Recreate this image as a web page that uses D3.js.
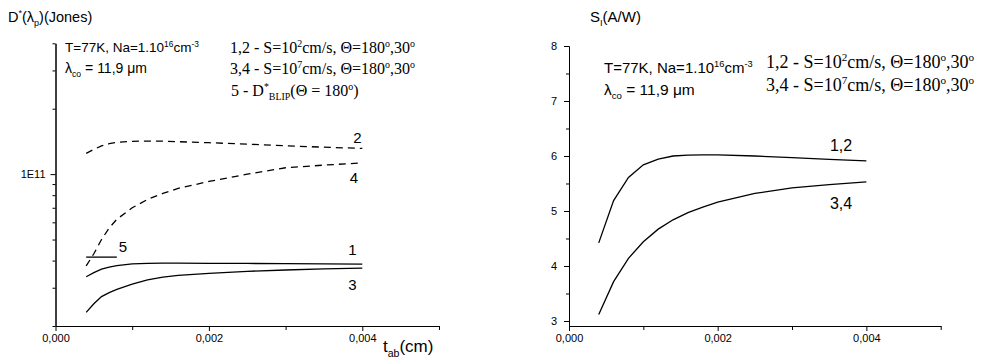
<!DOCTYPE html>
<html><head><meta charset="utf-8">
<script src="https://cdn.jsdelivr.net/npm/d3@7"></script>
<style>
body{margin:0;background:#fff;}
svg{display:block;}
.ax path,.ax line{stroke:#000;stroke-width:1;}
.ax text{font-family:Arial,"Liberation Sans",sans-serif;font-size:11px;fill:#000;}
</style></head>
<body>
<svg id="c" width="992" height="359"></svg>
<script>
// ---- data ----
const tLeft = [0.0004,0.0005,0.0006,0.0007,0.0008,0.001,0.0012,0.0014,0.0016,0.002,0.0025,0.003,0.0035,0.004];
const curve1 = [3.37e10,3.52e10,3.65e10,3.73e10,3.79e10,3.86e10,3.88e10,3.89e10,3.89e10,3.885e10,3.88e10,3.87e10,3.86e10,3.855e10];
const curve2 = [1.245e11,1.30e11,1.35e11,1.38e11,1.40e11,1.415e11,1.42e11,1.418e11,1.41e11,1.395e11,1.374e11,1.35e11,1.33e11,1.313e11];
const curve3 = [2.31e10,2.53e10,2.73e10,2.85e10,2.95e10,3.12e10,3.26e10,3.36e10,3.42e10,3.49e10,3.57e10,3.62e10,3.66e10,3.69e10];
const curve4 = [3.78e10,4.3e10,5.0e10,5.65e10,6.2e10,7.0e10,7.65e10,8.15e10,8.6e10,9.25e10,1.0e11,1.07e11,1.10e11,1.127e11];
const tBlip = [0.0004,0.0008];
const curve5 = [4.15e10,4.15e10];
const tRight = [0.0004,0.0006,0.0008,0.001,0.0012,0.0014,0.0016,0.0018,0.002,0.0025,0.003,0.0035,0.004];
const s12 = [4.42,5.19,5.61,5.84,5.945,6.0,6.015,6.02,6.02,6.0,5.97,5.94,5.91];
const s34 = [3.12,3.715,4.14,4.44,4.67,4.84,4.97,5.07,5.16,5.32,5.42,5.48,5.53];
const xMajor = [0,0.002,0.004];
const xMinor = [0.001,0.003,0.005];
const xTickLabels = ["0,000","0,002","0,004"];
const yLogMajor = [1e11];
const yLogMajorLabels = ["1E11"];
const yLogMinor = [2e10,3e10,4e10,5e10,6e10,7e10,8e10,9e10,2e11,3e11,4e11];
const yRightMajor = [3,4,5,6,7,8];
const yRightMinor = [3.5,4.5,5.5,6.5,7.5];

const svg = d3.select("#c");
const SANS = "Arial, 'Liberation Sans', sans-serif";
const SERIF = "'Liberation Serif', 'Times New Roman', 'DejaVu Serif', serif";

function rich(x, y, segs, size, family, anchor){
  const t = svg.append("text").attr("x",x).attr("y",y)
    .style("font-family",family).attr("font-size",size).attr("fill","#000");
  if(anchor) t.attr("text-anchor",anchor);
  let off = 0;
  segs.forEach(s=>{
    const [txt, kind] = Array.isArray(s)? s : [s, null];
    let target = kind==="sup" ? -size*0.38 : kind==="sub" ? size*0.28 : 0;
    const sp = t.append("tspan").text(txt).attr("dy", target-off);
    if(kind) sp.attr("font-size", size*0.62);
    off = target;
  });
  return t;
}

// ---- LEFT chart ----
const xL = d3.scaleLinear().domain([0,0.005]).range([55.5,439]);
const yL = d3.scaleLog().domain([2e10,4e11]).range([326,43.3]);

const gxL = svg.append("g").attr("class","ax").attr("transform","translate(0,326)");
gxL.append("g").call(d3.axisBottom(xL).tickValues(xMinor).tickSize(4).tickFormat("").tickSizeOuter(0));
gxL.append("g").call(d3.axisBottom(xL).tickValues(xMajor).tickSize(5).tickPadding(3)
   .tickFormat((d,i)=>xTickLabels[i]).tickSizeOuter(0));
const gyL = svg.append("g").attr("class","ax").attr("transform","translate(55.5,0)");
gyL.append("g").call(d3.axisLeft(yL).tickValues(yLogMinor).tickSize(3).tickFormat("").tickSizeOuter(0));
gyL.append("g").call(d3.axisLeft(yL).tickValues(yLogMajor).tickSize(5).tickPadding(5)
   .tickFormat((d,i)=>yLogMajorLabels[i]).tickSizeOuter(0));

const lineL = (xs)=>d3.line().x((d,i)=>xL(xs[i])).y(d=>yL(d));
function drawL(xs, ys, dash){
  svg.append("path").datum(ys).attr("d",lineL(xs)).attr("fill","none")
    .attr("stroke","#000").attr("stroke-width",1.3)
    .attr("stroke-dasharray",dash||null);
}
drawL(tLeft,curve1);
drawL(tLeft,curve3);
drawL(tLeft,curve2,"7,5");
drawL(tLeft,curve4,"7,5");
drawL(tBlip,curve5);

const lab = (x,y,t,fs)=>svg.append("text").attr("x",x).attr("y",y).attr("font-family",SANS)
  .attr("font-size",fs||15).attr("text-anchor","middle").text(t);
lab(357.5,143,"2");
lab(354,183,"4");
lab(352.5,255,"1");
lab(352.5,290,"3");
lab(123,252,"5");

rich(8,22,["D",["*","sup"],"(λ",["p","sub"],")(Jones)"],14.5,SANS);
rich(65,52,["T=77K, Na=1.10",["16","sup"],"cm",["-3","sup"]],13.5,SANS);
rich(65,73,["λ",["co","sub"]," = 11,9 μm"],14,SANS);
rich(230,53,["1,2 - S=10",["2","sup"],"cm/s, Θ=180",["o","sup"],",30",["o","sup"]],16,SERIF);
rich(230,74,["3,4 - S=10",["7","sup"],"cm/s, Θ=180",["o","sup"],",30",["o","sup"]],16,SERIF);
rich(231,96,["5 - D",["*","sup"],["BLIP","sub"],"(Θ = 180",["o","sup"],")"],16,SERIF);
rich(383,352,["t",["ab","sub"],"(cm)"],17,SANS);

// ---- RIGHT chart ----
const xR = d3.scaleLinear().domain([0,0.005]).range([569,940.7]);
const yR = d3.scaleLinear().domain([2.909,8]).range([326,46]);

const gxR = svg.append("g").attr("class","ax").attr("transform","translate(0,326)");
gxR.append("g").call(d3.axisBottom(xR).tickValues(xMinor).tickSize(4).tickFormat("").tickSizeOuter(0));
gxR.append("g").call(d3.axisBottom(xR).tickValues(xMajor).tickSize(5).tickPadding(3)
   .tickFormat((d,i)=>xTickLabels[i]).tickSizeOuter(0));
const gyR = svg.append("g").attr("class","ax").attr("transform","translate(569,0)");
gyR.append("g").call(d3.axisLeft(yR).tickValues(yRightMinor).tickSize(3).tickFormat("").tickSizeOuter(0));
gyR.append("g").call(d3.axisLeft(yR).tickValues(yRightMajor).tickSize(5).tickPadding(7)
   .tickFormat(d3.format("d")).tickSizeOuter(0));

const lineR = d3.line().x((d,i)=>xR(tRight[i])).y(d=>yR(d));
[s12,s34].forEach(ys=>{
  svg.append("path").datum(ys).attr("d",lineR).attr("fill","none")
    .attr("stroke","#000").attr("stroke-width",1.3);
});
lab(841,151,"1,2",16);
lab(841,209,"3,4",16);

rich(590,22,["S",["I","sub"],"(A/W)"],15,SANS);
rich(604,73,["T=77K, Na=1.10",["16","sup"],"cm",["-3","sup"]],15,SANS);
rich(604,95,["λ",["co","sub"]," = 11,9 μm"],15.5,SANS);
rich(766,68,["1,2 - S=10",["2","sup"],"cm/s, Θ=180",["o","sup"],",30",["o","sup"]],18,SERIF);
rich(766,91,["3,4 - S=10",["7","sup"],"cm/s, Θ=180",["o","sup"],",30",["o","sup"]],18,SERIF);
</script>
</body></html>
